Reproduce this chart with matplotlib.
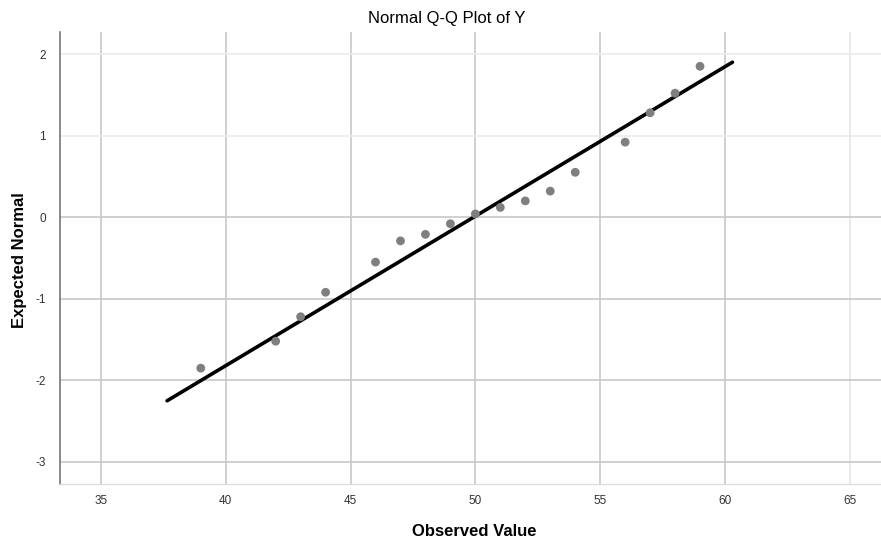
import matplotlib
matplotlib.use("Agg")
import matplotlib.pyplot as plt

# Data
observed = [39, 42, 43, 44, 46, 47, 48, 49, 50, 51, 52, 53, 54, 56, 57, 58, 59]
expected = [-1.85, -1.52, -1.22, -0.92, -0.55, -0.29, -0.21, -0.08, 0.04, 0.12,
            0.20, 0.32, 0.55, 0.92, 1.28, 1.52, 1.85]
line_x = [37.65, 60.3]
line_y = [-2.25, 1.90]
x_ticks = [35, 40, 45, 50, 55, 60, 65]
y_ticks = [2, 1, 0, -1, -2, -3]

plt.rcParams['font.family'] = ['Liberation Sans', 'DejaVu Sans']

W, H = 881, 541
fig = plt.figure(figsize=(W/100, H/100), dpi=100)
ax = fig.add_axes([60/W, 57/H, 821/W, 452/H])
ax.set_xlim(33.36, 66.25)
ax.set_ylim(-3.27, 2.27)

# grid lines
for xv in x_ticks:
    c = '#e6e6e6' if xv == 65 else '#c8c8c8'
    ax.axvline(xv, color=c, lw=1.2, zorder=0)
for yv in y_ticks:
    c = '#ebebeb' if yv > 0 else '#c8c8c8'
    ax.axhline(yv, color=c, lw=1.2, zorder=0)

ax.plot(line_x, line_y, color='black', lw=2.6, solid_capstyle='round', zorder=2)
ax.scatter(observed, expected, s=40, color='#7f7f7f', edgecolors='none', zorder=3)

ax.set_xticks(x_ticks)
ax.set_yticks(y_ticks)
ax.set_xticklabels([str(v) for v in x_ticks])
ax.set_yticklabels([str(v) for v in y_ticks])
ax.tick_params(axis='both', length=0, labelsize=8.5, colors='#333333')
ax.tick_params(axis='y', pad=10)
ax.tick_params(axis='x', pad=8)

for s in ['top', 'right']:
    ax.spines[s].set_visible(False)
ax.spines['left'].set_color('#777777')
ax.spines['left'].set_linewidth(1.2)
ax.spines['bottom'].set_color('#dddddd')
ax.spines['bottom'].set_linewidth(1.0)

fig.text(474/W, 1 - 531/H, 'Observed Value', ha='center', va='center',
         fontsize=12, fontweight='bold')
fig.text(20/W, 1 - 260/H, 'Expected Normal', ha='center', va='center',
         fontsize=12, fontweight='bold', rotation=90)
fig.text(447/W, 1 - 19/H, 'Normal Q-Q Plot of Y', ha='center', va='center', fontsize=12)

fig.savefig('out.png', dpi=100, facecolor='white')
